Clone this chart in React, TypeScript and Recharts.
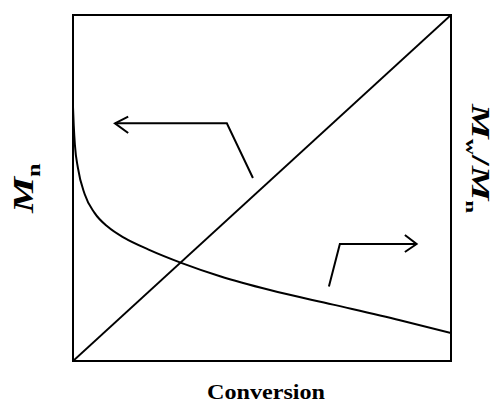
import React from "react";
import {
  ComposedChart,
  Line,
  XAxis,
  YAxis,
  ReferenceArea,
} from "recharts";

// Mn rises linearly with conversion (left axis)
const mnConversion = [0, 1];
const mnValues = [0, 1];

// Mw/Mn falls off with conversion (right axis)
const pdiConversion = [
  0, 0.002, 0.005, 0.013, 0.031, 0.057, 0.093, 0.137, 0.2, 0.288, 0.389,
  0.521, 0.688, 0.865, 1,
];
const pdiValues = [
  0.734, 0.68, 0.625, 0.558, 0.482, 0.428, 0.387, 0.355, 0.322, 0.283, 0.245,
  0.205, 0.163, 0.118, 0.081,
];

// arrows telling which curve belongs to which axis
const leftArrowX = [0.476, 0.407, 0.111];
const leftArrowY = [0.529, 0.687, 0.687];
const leftHeadX = [0.146, 0.111, 0.146];
const leftHeadY = [0.706, 0.687, 0.659];

const rightArrowX = [0.677, 0.706, 0.909];
const rightArrowY = [0.215, 0.338, 0.338];
const rightHeadX = [0.878, 0.909, 0.878];
const rightHeadY = [0.364, 0.338, 0.315];

const toPoints = (xs: number[], ys: number[]) =>
  xs.map((x, i) => ({ x, y: ys[i] }));

const mnData = toPoints(mnConversion, mnValues);
const pdiData = toPoints(pdiConversion, pdiValues);

const arrows = [
  toPoints(leftArrowX, leftArrowY),
  toPoints(leftHeadX, leftHeadY),
  toPoints(rightArrowX, rightArrowY),
  toPoints(rightHeadX, rightHeadY),
];

const W = 497;
const H = 405;
const FONT = "'Liberation Serif', 'DejaVu Serif', serif";

export default function App() {
  return (
    <div style={{ position: "absolute", left: 0, top: 0, width: W, height: H, background: "#fff" }}>
      <ComposedChart
        width={W}
        height={H}
        margin={{ top: 15, right: 46, bottom: 44, left: 73 }}
      >
        <XAxis type="number" dataKey="x" domain={[0, 1]} hide allowDataOverflow />
        <YAxis yAxisId="left" type="number" domain={[0, 1]} hide allowDataOverflow />
        <YAxis yAxisId="right" orientation="right" type="number" domain={[0, 1]} hide allowDataOverflow />
        <ReferenceArea
          yAxisId="left"
          x1={0}
          x2={1}
          y1={0}
          y2={1}
          fill="none"
          stroke="#000"
          strokeWidth={2}
          fillOpacity={0}
        />
        <Line
          yAxisId="left"
          data={mnData}
          dataKey="y"
          type="linear"
          stroke="#000"
          strokeWidth={2}
          dot={false}
          isAnimationActive={false}
        />
        <Line
          yAxisId="right"
          data={pdiData}
          dataKey="y"
          type="monotone"
          stroke="#000"
          strokeWidth={2}
          dot={false}
          isAnimationActive={false}
        />
        {arrows.map((pts, i) => (
          <Line
            key={i}
            yAxisId="left"
            data={pts}
            dataKey="y"
            type="linear"
            stroke="#000"
            strokeWidth={2}
            dot={false}
            isAnimationActive={false}
          />
        ))}
      </ComposedChart>
      <svg
        width={W}
        height={H}
        style={{ position: "absolute", left: 0, top: 0, pointerEvents: "none" }}
      >
        <text
          transform="translate(33,213) rotate(-90) scale(1.35,1)"
          fontFamily={FONT}
          fontWeight="bold"
          fontSize={30}
          fill="#000"
        >
          <tspan fontStyle="italic">M</tspan>
          <tspan fontSize={18} dy={7}>n</tspan>
        </text>
        <text
          transform="translate(472,104) rotate(90) scale(1.5,1)"
          fontFamily={FONT}
          fontWeight="bold"
          fontSize={26}
          fill="#000"
        >
          <tspan fontStyle="italic">M</tspan>
          <tspan fontSize={15} dy={6}>w</tspan>
          <tspan dy={-6}>/</tspan>
          <tspan fontStyle="italic">M</tspan>
          <tspan fontSize={15} dy={6}>n</tspan>
        </text>
        <text
          transform="translate(266,399) scale(1.15,1)"
          textAnchor="middle"
          fontFamily={FONT}
          fontWeight="bold"
          fontSize={21}
          fill="#000"
        >
          Conversion
        </text>
      </svg>
    </div>
  );
}
